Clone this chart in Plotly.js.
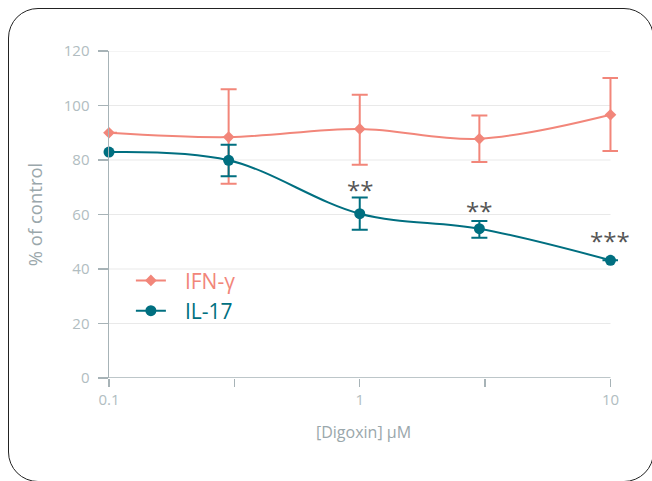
<!DOCTYPE html>
<html>
<head>
<meta charset="utf-8">
<script src="https://cdn.plot.ly/plotly-3.0.1.min.js"></script>
<style>
html,body{margin:0;padding:0;width:652px;height:481px;overflow:hidden;background:#fff;}
#frame{position:absolute;left:8px;top:8px;width:646px;height:474px;box-sizing:border-box;border:1.4px solid #222;border-radius:30px;pointer-events:none;}
#chart{position:absolute;left:0;top:0;width:652px;height:481px;}
</style>
</head>
<body>
<div id="chart"></div>
<div id="frame"></div>
<script>
const doses = [0.1, 0.3, 1, 3, 10];
const ifnMean = [90.0, 88.4, 91.4, 87.8, 96.6];
const ifnErrPlus = [0, 17.6, 12.5, 8.5, 13.5];
const ifnErrMinus = [0, 17.1, 13.1, 8.5, 13.3];
const il17Mean = [82.9, 79.9, 60.3, 54.8, 43.2];
const il17ErrPlus = [0, 5.7, 5.9, 2.8, 0];
const il17ErrMinus = [0, 5.9, 5.9, 3.3, 0];
const sigDoses = [1, 3, 10];
const sigY = [69.2, 61.6, 50.4];
const sigLabels = ['**', '**', '***'];
const tickVals = [0.1, 0.316, 1, 3.16, 10];
const tickText = ['0.1', '', '1', '', '10'];
const gridVals = [20, 40, 60, 80, 100, 120];

const salmon = '#f2867a';
const teal = '#006f80';
const axisGray = '#a7b3b7';
const font = '"Open Sans", "Fira Sans", sans-serif';

// x range extends slightly past 10 so the last error-bar cap is not clipped
const xRange = [-1, 1.03];
const xEndFrac = (Math.log10(10) - xRange[0]) / (xRange[1] - xRange[0]);

const gap = '\u2002\u2009';
const traces = [
  {
    x: doses, y: ifnMean, type: 'scatter', mode: 'lines+markers',
    name: gap + '<span style="color:' + salmon + '">IFN-γ</span>',
    line: {color: salmon, width: 2, shape: 'spline'},
    marker: {color: salmon, size: 9, symbol: 'diamond'},
    error_y: {type: 'data', symmetric: false, array: ifnErrPlus, arrayminus: ifnErrMinus,
      color: salmon, thickness: 2, width: 8},
    cliponaxis: false
  },
  {
    x: doses, y: il17Mean, type: 'scatter', mode: 'lines+markers',
    name: gap + '<span style="color:' + teal + '">IL-17</span>',
    line: {color: teal, width: 2, shape: 'spline'},
    marker: {color: teal, size: 11, symbol: 'circle'},
    error_y: {type: 'data', symmetric: false, array: il17ErrPlus, arrayminus: il17ErrMinus,
      color: teal, thickness: 2, width: 8},
    cliponaxis: false
  }
];

const annotations = sigDoses.map((d, i) => ({
  x: Math.log10(d), y: sigY[i], xref: 'x', yref: 'y', text: sigLabels[i],
  showarrow: false, font: {family: font, size: 24, color: '#555555'}
}));

const shapes = gridVals.map(v => ({
  type: 'line', xref: 'paper', yref: 'y', x0: 0, x1: xEndFrac, y0: v, y1: v,
  line: {color: '#e9e9e9', width: 1.2}, layer: 'below'
}));
shapes.push({
  type: 'line', xref: 'paper', yref: 'y', x0: 0, x1: xEndFrac, y0: 0, y1: 0,
  line: {color: axisGray, width: 1.5}, layer: 'above'
});

const layout = {
  width: 652, height: 481,
  margin: {l: 109, r: 33.5, t: 51, b: 103},
  paper_bgcolor: '#ffffff', plot_bgcolor: '#ffffff',
  font: {family: font},
  showlegend: true,
  legend: {x: 0.043, y: 0.36, xanchor: 'left', yanchor: 'top',
    font: {family: font, size: 21, color: '#666'}, bgcolor: 'rgba(0,0,0,0)',
    tracegroupgap: 0},
  xaxis: {
    type: 'log', range: xRange, tickvals: tickVals, ticktext: tickText,
    showgrid: false, zeroline: false, showline: false,
    ticks: 'outside', ticklen: 8, tickwidth: 1.5, tickcolor: axisGray,
    tickfont: {family: font, size: 15, color: '#b1bdc1'},
    title: {text: '[Digoxin] μM', font: {family: font, size: 16, color: '#9aa7ab'}, standoff: 18}
  },
  yaxis: {
    range: [0, 120], dtick: 20, tick0: 0,
    showgrid: false,
    zeroline: false, showline: true, linecolor: axisGray, linewidth: 1.5,
    ticks: 'outside', ticklen: 10, tickwidth: 1.2, tickcolor: axisGray,
    ticklabelstandoff: 5,
    tickfont: {family: font, size: 15, color: '#b1bdc1'},
    title: {text: '% of control', font: {family: font, size: 18.5, color: '#9aa7ab'}, standoff: 16}
  },
  shapes: shapes,
  annotations: annotations
};

Plotly.newPlot('chart', traces, layout, {displayModeBar: false, staticPlot: true});
</script>
</body>
</html>
